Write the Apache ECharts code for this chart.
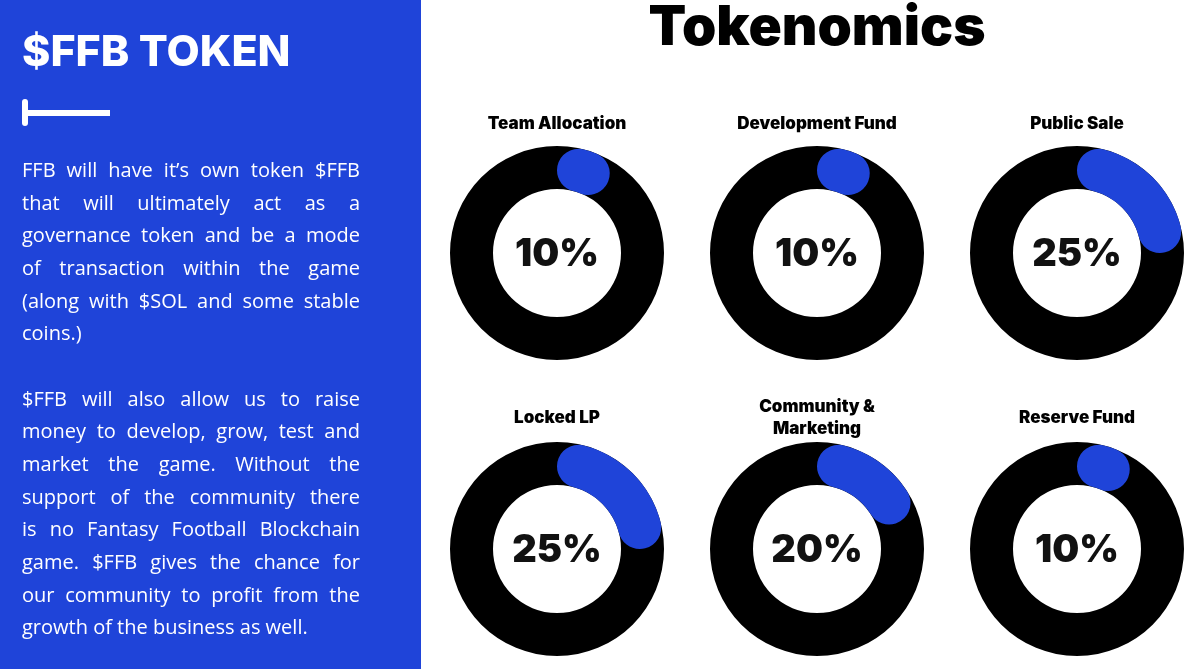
<!DOCTYPE html>
<html>
<head>
<meta charset="utf-8">
<script src="https://cdn.jsdelivr.net/npm/echarts@6/dist/echarts.min.js"></script>
<style>
  html, body { margin: 0; padding: 0; background: #fff; }
  #wrap { position: relative; width: 1200px; height: 669px; overflow: hidden; }
  #chart { position: absolute; left: 0; top: 0; width: 1200px; height: 669px; }
  #para {
    position: absolute; left: 22px; top: 154px; width: 338px;
    font-family: "Open Sans", sans-serif; font-size: 20px; line-height: 32.65px;
    color: #fff;
  }
  #para .ln { text-align: justify; text-align-last: justify; white-space: nowrap; }
  #para .end { text-align: left; text-align-last: left; }
  #para .gap { height: 32.65px; }
</style>
</head>
<body>
<div id="wrap">
  <div id="chart"></div>
  <div id="para"></div>
</div>
<script>
// chart data
const categories = ['Team Allocation', 'Development Fund', 'Public Sale', 'Locked LP', 'Community &\nMarketing', 'Reserve Fund'];
const shares = [10, 10, 25, 25, 20, 10];

// left panel copy, one entry per rendered line ('' = paragraph break)
const introLines = [
  'FFB will have it’s own token $FFB',
  'that will ultimately act as a',
  'governance token and be a mode',
  'of transaction within the game',
  '(along with $SOL and some stable',
  'coins.)',
  '',
  '$FFB will also allow us to raise',
  'money to develop, grow, test and',
  'market the game. Without the',
  'support of the community there',
  'is no Fantasy Football Blockchain',
  'game. $FFB gives the chance for',
  'our community to profit from the',
  'growth of the business as well.'
];

const blue = '#1f44d9';
const centers = [[557, 253], [817, 253], [1077, 253], [557, 549], [817, 549], [1077, 549]];
const headFont = 'Inter, "DejaVu Sans", sans-serif';

const para = document.getElementById('para');
introLines.forEach((line, i) => {
  const d = document.createElement('div');
  if (line === '') {
    d.className = 'gap';
  } else {
    const next = introLines[i + 1];
    d.className = (next === undefined || next === '') ? 'ln end' : 'ln';
    d.textContent = line;
  }
  para.appendChild(d);
});

const myChart = echarts.init(document.getElementById('chart'));

const series = [];
categories.forEach((name, i) => {
  // black ring behind
  series.push({
    type: 'pie',
    silent: true,
    center: centers[i],
    radius: [64, 107],
    label: { show: false },
    itemStyle: { color: '#000' },
    data: [{ value: 100, name: name + ' ring' }]
  });
  // blue share on top
  series.push({
    type: 'pie',
    silent: true,
    center: centers[i],
    radius: [64, 107],
    startAngle: 90,
    clockwise: true,
    itemStyle: { borderRadius: 22 },
    labelLine: { show: false },
    data: [
      {
        value: shares[i],
        name: name,
        itemStyle: { color: blue },
        label: {
          show: true,
          position: 'center',
          formatter: '{c}%',
          fontFamily: headFont,
          fontWeight: 900,
          fontSize: 38,
          color: '#111',
          offset: [0, 2]
        }
      },
      {
        value: 100 - shares[i],
        name: 'rest',
        itemStyle: { color: 'rgba(0,0,0,0)' },
        label: { show: false }
      }
    ]
  });
});

const graphic = [
  { type: 'rect', shape: { x: 0, y: 0, width: 421, height: 669 }, style: { fill: blue }, silent: true },
  {
    type: 'text', silent: true,
    style: { text: '$FFB TOKEN', x: 22, y: 53, fill: '#fff', font: '800 43px ' + headFont, textVerticalAlign: 'middle' }
  },
  { type: 'rect', shape: { x: 26, y: 110, width: 84, height: 6 }, style: { fill: '#fff' }, silent: true },
  { type: 'rect', shape: { x: 22, y: 99, width: 6, height: 27, r: 3 }, style: { fill: '#fff' }, silent: true },
  {
    type: 'text', silent: true,
    style: { text: 'Tokenomics', x: 817, y: 28, fill: '#000', font: '900 55px ' + headFont, textAlign: 'center', textVerticalAlign: 'middle' }
  }
];
categories.forEach((name, i) => {
  graphic.push({
    type: 'text', silent: true,
    style: {
      text: name,
      x: centers[i][0],
      y: centers[i][1] - (i < 3 ? 129 : 131),
      fill: '#000',
      font: '900 17px ' + headFont,
      lineHeight: 22,
      textAlign: 'center',
      textVerticalAlign: 'middle'
    }
  });
});

myChart.setOption({
  backgroundColor: '#fff',
  animation: false,
  graphic: graphic,
  series: series
});
</script>
</body>
</html>
